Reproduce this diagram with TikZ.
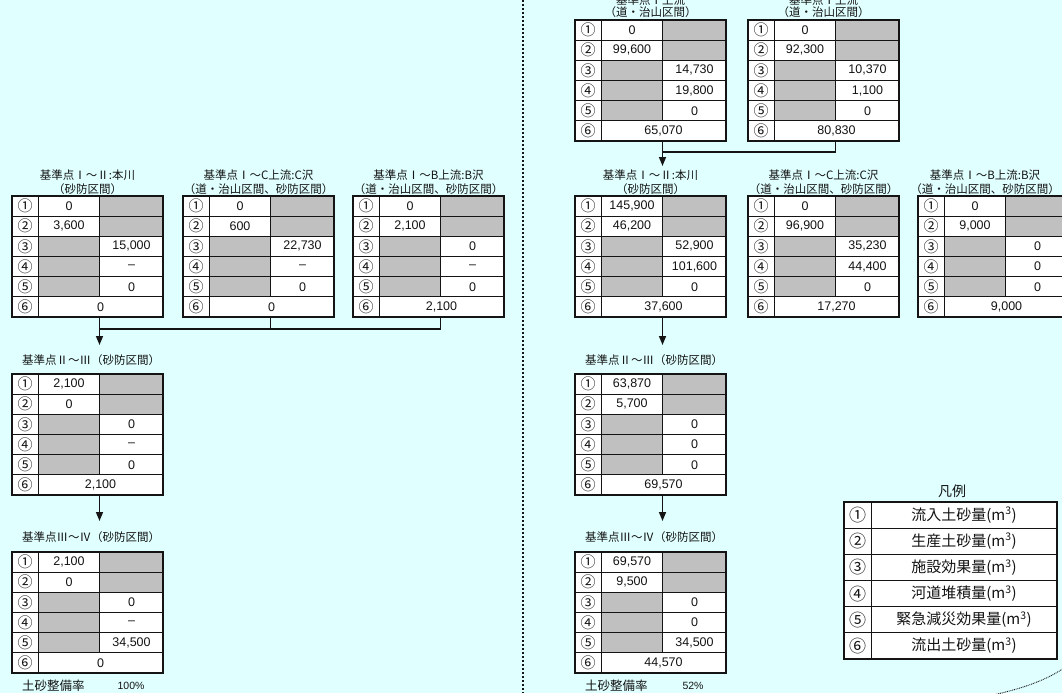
\documentclass[tikz,border=0pt]{standalone}
\usepackage{fontspec}
\setmainfont{Liberation Sans}
\newfontfamily\jp{Noto Sans CJK JP}
\usetikzlibrary{arrows.meta}
\definecolor{bg}{RGB}{224,255,255}
\definecolor{cellgray}{RGB}{192,192,192}
\definecolor{ink}{RGB}{20,20,20}
\tikzset{
  thinline/.style={draw=ink, line width=0.8pt},
  frame/.style={draw=ink, line width=1.8pt, inner sep=0pt, minimum width=151pt, minimum height=121pt},
  num/.style={font=\jp\fontsize{15}{15}\selectfont, inner sep=0pt, text=ink},
  val/.style={font=\fontsize{12.5}{12.5}\selectfont, inner sep=0pt, text=ink},
  hdr/.style={font=\jp\fontsize{11.5}{11.5}\selectfont, inner sep=0pt, text=ink},
  legtxt/.style={font=\jp\fontsize{15}{15}\selectfont, inner sep=0pt, text=ink},
  conn/.style={draw=ink, line width=1.5pt},
  arr/.style={draw=ink, line width=1.5pt, -{Triangle[width=7pt,length=9pt]}},
}
\newcommand\soiltable[9]{%
\begin{scope}[shift={(#1,#2)}]
 \fill[white] (0,0) rectangle (151,121);
 \fill[cellgray] (87.5,0) rectangle (151,40.33);
 \fill[cellgray] (26,40.33) rectangle (87.5,100.83);
 \draw[thinline] (26,0) -- (26,121);
 \draw[thinline] (87.5,0) -- (87.5,100.83);
 \foreach \r in {20.17,40.33,60.5,80.67,100.83} \draw[thinline] (0,\r) -- (151,\r);
 \node[frame] (#3) at (75.5,60.5) {};
 \foreach \i/\s in {1/①,2/②,3/③,4/④,5/⑤,6/⑥}
   \node[num] (#3-c\i) at (13,{20.17*\i-10.08}) {\s};
 \node[val] (#3-1) at (57,10.08) {#4};
 \node[val] (#3-2) at (57,30.25) {#5};
 \node[val] (#3-3) at (119.5,50.42) {#6};
 \node[val] (#3-4) at (119.5,70.58) {#7};
 \node[val] (#3-5) at (119.5,90.75) {#8};
 \node[val] (#3-6) at (88.5,110.92) {#9};
 \coordinate (#3-out) at (87.5,121);
\end{scope}}
\begin{document}
\begin{tikzpicture}[x=1pt,y=-1pt]
\useasboundingbox (0,0) rectangle (1062,693);
\clip (0,0) rectangle (1062,693);
\fill[bg] (0,0) rectangle (1062,693);

% divider
\coordinate (divtop) at (523,0);
\coordinate (divbot) at (523,693);
\draw[ink, line width=1.3pt, dash pattern=on 1.6pt off 2.4pt] (divtop) -- (divbot);

% bottom-right dotted arc
\coordinate (arcA) at (993,695);
\coordinate (arcB) at (1064,668);
\draw[ink, line width=0.9pt, dash pattern=on 0.9pt off 0.9pt] (arcA) .. controls (1020,689) and (1045,681) .. (arcB);

% ---------------- left side ----------------
\node[hdr] (hL1a) at (87.5,175) {基準点Ⅰ～Ⅱ:本川};
\node[hdr] (hL1b) at (87.5,189) {（砂防区間）};
\node[hdr] (hL2a) at (258.5,175) {基準点Ⅰ～C上流:C沢};
\node[hdr] (hL2b) at (258.5,189) {（道・治山区間、砂防区間）};
\node[hdr] (hL3a) at (428.5,175) {基準点Ⅰ～B上流:B沢};
\node[hdr] (hL3b) at (428.5,189) {（道・治山区間、砂防区間）};

\soiltable{12}{196}{L1}{0}{3,600}{15,000}{–}{0}{0}
\soiltable{183}{196}{L2}{0}{600}{22,730}{–}{0}{0}
\soiltable{353}{196}{L3}{0}{2,100}{0}{–}{0}{2,100}

\coordinate (Lbar) at (99,329);
\coordinate (Ltip) at (99,345);
\draw[conn] (L3-out) |- (L1-out |- Lbar);
\draw[conn] (L2-out) -- (L2-out |- Lbar);
\draw[arr] (L1-out) -- (L1-out |- Ltip);

\node[hdr, anchor=west] (hL4) at (22,360) {基準点Ⅱ～Ⅲ（砂防区間）};
\soiltable{12}{374}{L4}{2,100}{0}{0}{–}{0}{2,100}
\coordinate (L4tip) at (99,521);
\draw[arr] (L4-out) -- (L4-out |- L4tip);

\node[hdr, anchor=west] (hL5) at (22,537) {基準点Ⅲ～Ⅳ（砂防区間）};
\soiltable{12}{552}{L5}{2,100}{0}{0}{–}{34,500}{0}
\node[hdr, anchor=west, font=\jp\fontsize{12.5}{12.5}\selectfont] (rL) at (22,686) {土砂整備率};
\node[val, font=\fontsize{10.5}{10.5}\selectfont] (rLv) at (131,686) {100\%};

% ---------------- right side ----------------
\node[hdr] (hR0aa) at (650.5,0) {基準点Ⅰ上流};
\node[hdr] (hR0ab) at (650.5,12.5) {（道・治山区間）};
\node[hdr] (hR0ba) at (823.5,0) {基準点Ⅰ上流};
\node[hdr] (hR0bb) at (823.5,12.5) {（道・治山区間）};
\soiltable{575}{20}{R0a}{0}{99,600}{14,730}{19,800}{0}{65,070}
\soiltable{748}{20}{R0b}{0}{92,300}{10,370}{1,100}{0}{80,830}

\coordinate (Rbar) at (662.5,152);
\coordinate (Rtip) at (662.5,166);
\draw[conn] (R0b-out) |- (R0a-out |- Rbar);
\draw[arr] (R0a-out) -- (R0a-out |- Rtip);

\node[hdr] (hR1a) at (650.5,175) {基準点Ⅰ～Ⅱ:本川};
\node[hdr] (hR1b) at (650.5,189) {（砂防区間）};
\node[hdr] (hR2a) at (823.5,175) {基準点Ⅰ～C上流:C沢};
\node[hdr] (hR2b) at (823.5,189) {（道・治山区間、砂防区間）};
\node[hdr] (hR3a) at (985,175) {基準点Ⅰ～B上流:B沢};
\node[hdr] (hR3b) at (985,189) {（道・治山区間、砂防区間）};

\soiltable{575}{196}{R1}{145,900}{46,200}{52,900}{101,600}{0}{37,600}
\soiltable{748}{196}{R2}{0}{96,900}{35,230}{44,400}{0}{17,270}
\soiltable{918}{196}{R3}{0}{9,000}{0}{0}{0}{9,000}

\coordinate (R1tip) at (662.5,345);
\draw[arr] (R1-out) -- (R1-out |- R1tip);

\node[hdr, anchor=west] (hR4) at (585,360) {基準点Ⅱ～Ⅲ（砂防区間）};
\soiltable{575}{374}{R4}{63,870}{5,700}{0}{0}{0}{69,570}
\coordinate (R4tip) at (662.5,521);
\draw[arr] (R4-out) -- (R4-out |- R4tip);

\node[hdr, anchor=west] (hR5) at (585,537) {基準点Ⅲ～Ⅳ（砂防区間）};
\soiltable{575}{552}{R5}{69,570}{9,500}{0}{0}{34,500}{44,570}
\node[hdr, anchor=west, font=\jp\fontsize{12.5}{12.5}\selectfont] (rR) at (585,686) {土砂整備率};
\node[val, font=\fontsize{10.5}{10.5}\selectfont] (rRv) at (693,686) {52\%};

% ---------------- legend ----------------
\node[legtxt, font=\jp\fontsize{14}{14}\selectfont] (legtitle) at (952,491) {凡例};
\begin{scope}[shift={(844,502)}]
 \fill[white] (0,0) rectangle (213,157);
 \foreach \r in {26.17,52.33,78.5,104.67,130.83} \draw[thinline] (0,\r) -- (213,\r);
 \draw[thinline] (27,0) -- (27,157);
 \node[frame, minimum width=213pt, minimum height=157pt] (leg) at (106.5,78.5) {};
 \foreach \i/\s/\t in {1/①/流入土砂量,2/②/生産土砂量,3/③/施設効果量,4/④/河道堆積量,5/⑤/緊急減災効果量,6/⑥/流出土砂量}{
   \node[num, font=\jp\fontsize{17}{17}\selectfont] (leg-c\i) at (13.5,{26.17*\i-13.08}) {\s};
   \node[legtxt] (leg-t\i) at (120,{26.17*\i-13.08}) {\t(m\textsuperscript{3})};
 }
\end{scope}
\end{tikzpicture}
\end{document}
